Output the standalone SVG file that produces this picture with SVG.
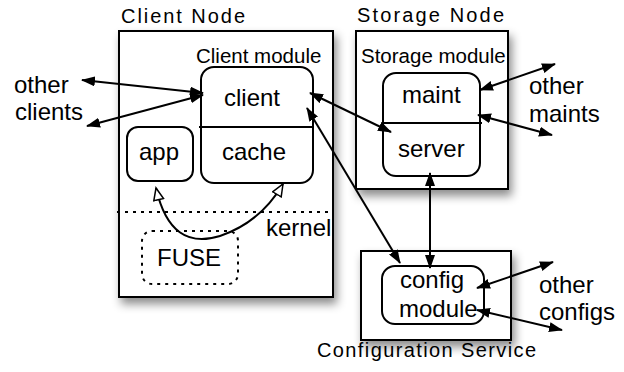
<svg xmlns="http://www.w3.org/2000/svg" width="624" height="372" viewBox="0 0 624 372">
<style>
text{font-family:"Liberation Sans",Arial,sans-serif;fill:#000}
.big{font-size:24px}
.mod{font-size:20.5px}
.title{font-size:20px}
.box{fill:#fff;stroke:#000;stroke-width:2}
.rbox{fill:#fff;stroke:#000;stroke-width:2}
.ln{stroke:#000;stroke-width:2;fill:none}
.dot{stroke:#000;stroke-width:2;fill:none;stroke-dasharray:3 5}
.con{stroke:#000;stroke-width:2;fill:none;marker-start:url(#ah);marker-end:url(#ah)}
.ocon{stroke:#000;stroke-width:2;fill:none;marker-start:url(#oh);marker-end:url(#oh)}
</style>
<defs>
<filter id="sh" x="-20%" y="-20%" width="150%" height="150%">
<feDropShadow dx="3" dy="6" stdDeviation="5" flood-color="#000" flood-opacity="0.45"/>
</filter>
<marker id="ah" markerUnits="userSpaceOnUse" markerWidth="14" markerHeight="10" refX="13" refY="5" orient="auto-start-reverse">
<path d="M0,0 L14,5 L0,10 Z" fill="#000"/>
</marker>
<marker id="oh" markerUnits="userSpaceOnUse" markerWidth="16" markerHeight="12" refX="13" refY="6" orient="auto-start-reverse">
<path d="M1,1 L13,6 L1,11 Z" fill="#fff" stroke="#000" stroke-width="1.5"/>
</marker>
</defs>
<rect width="624" height="372" fill="#fff"/>

<g id="client-node">
<rect class="box" x="119" y="31" width="214" height="266" filter="url(#sh)"/>
<text class="title" x="121" y="23" textLength="124" lengthAdjust="spacing">Client Node</text>
<line class="dot" x1="117" y1="212" x2="330" y2="212"/>
<text class="big" x="266" y="236">kernel</text>
</g>

<g id="client-module">
<text class="mod" x="196" y="63">Client module</text>
<rect class="rbox" x="201" y="67" width="112" height="116" rx="13"/>
<line class="ln" x1="199" y1="127" x2="313" y2="127"/>
<text class="big" x="224" y="106">client</text>
<text class="big" x="222" y="160">cache</text>
</g>

<g id="app">
<rect class="rbox" x="127" y="127" width="66" height="54" rx="11"/>
<text class="big" x="139" y="160">app</text>
</g>

<g id="fuse">
<rect class="dot" x="142" y="231" width="96" height="53" rx="10"/>
<text class="big" x="157" y="266">FUSE</text>
</g>

<g id="storage-node">
<rect class="box" x="356" y="31" width="152" height="158" filter="url(#sh)"/>
<text class="title" x="357" y="22" textLength="147" lengthAdjust="spacing">Storage Node</text>
<text class="mod" x="361" y="63">Storage module</text>
<rect class="rbox" x="383" y="73" width="97" height="103" rx="13"/>
<line class="ln" x1="383" y1="123" x2="482" y2="123"/>
<text class="big" x="402" y="103">maint</text>
<text class="big" x="398" y="157">server</text>
</g>

<g id="config-service">
<rect class="box" x="361" y="251" width="150" height="89" filter="url(#sh)"/>
<rect class="rbox" x="382" y="266" width="102" height="58" rx="13"/>
<text class="big" x="400" y="288">config</text>
<text class="big" x="399" y="317">module</text>
<text class="title" x="317" y="357" textLength="219" lengthAdjust="spacing">Configuration Service</text>
</g>

<g id="labels">
<text class="big" x="14" y="93">other</text>
<text class="big" x="15" y="120">clients</text>
<text class="big" x="529" y="94">other</text>
<text class="big" x="529" y="122">maints</text>
<text class="big" x="539" y="293">other</text>
<text class="big" x="539" y="320">configs</text>
</g>

<g id="connectors">
<line class="con" x1="82" y1="80" x2="203" y2="93"/>
<line class="con" x1="87" y1="126" x2="203" y2="95"/>
<line class="con" x1="310" y1="93" x2="391" y2="132"/>
<line class="con" x1="307" y1="108" x2="400" y2="263"/>
<line class="con" x1="430" y1="173" x2="430" y2="268"/>
<line class="con" x1="480" y1="90" x2="555" y2="64"/>
<line class="con" x1="478" y1="115" x2="552" y2="135"/>
<line class="con" x1="477" y1="288" x2="553" y2="262"/>
<line class="con" x1="477" y1="310" x2="562" y2="330"/>
<path class="ocon" d="M156,188 C166,232 188,246 220,236 C250,226 270,206 283,184"/>
</g>
</svg>
